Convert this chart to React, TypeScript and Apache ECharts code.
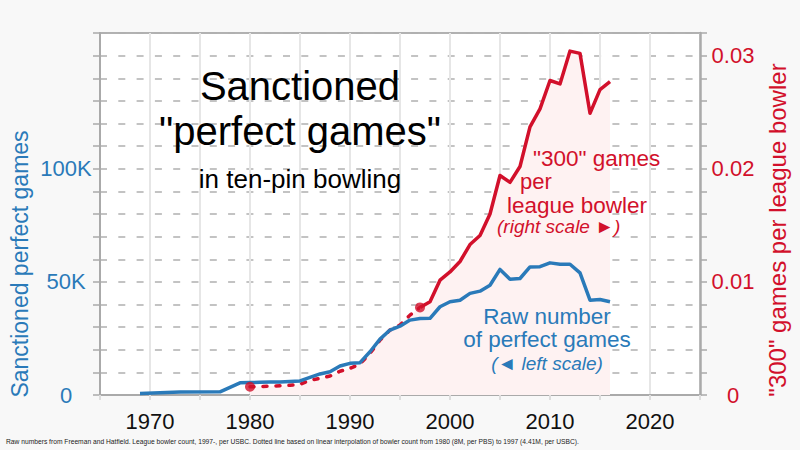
import React, { useEffect, useRef } from "react";
import * as echarts from "echarts";

// Raw number of sanctioned perfect games (left scale)
const rawYears = [1969, 1973, 1977, 1979, 1980, 1981, 1982, 1983, 1984, 1985, 1986, 1987, 1988, 1989, 1990, 1991, 1992, 1993, 1994, 1995, 1996, 1997, 1998, 1999, 2000, 2001, 2002, 2003, 2004, 2005, 2006, 2007, 2008, 2009, 2010, 2011, 2012, 2013, 2014, 2015, 2016];
const rawGames = [700, 1300, 1400, 5400, 5500, 5600, 5700, 5800, 6000, 6200, 7800, 9300, 10300, 12800, 14000, 14300, 19100, 24700, 28700, 30400, 33100, 33800, 33900, 39000, 41200, 41900, 44900, 45900, 48500, 55500, 51200, 51500, 56600, 56700, 58400, 57800, 57800, 54000, 41900, 42200, 41200];

// "300" games per league bowler, interpolated bowler count (right scale, dotted)
const interpYears = [1980, 1981, 1982, 1983, 1984, 1985, 1986, 1987, 1988, 1989, 1990, 1991, 1992, 1993, 1994, 1995, 1996, 1997];
const interpRate = [0.00073, 0.00075, 0.00078, 0.00082, 0.00086, 0.00094, 0.0013, 0.00147, 0.00168, 0.0021, 0.00235, 0.00274, 0.00368, 0.00485, 0.00574, 0.00618, 0.00706, 0.00774];

// "300" games per league bowler, USBC bowler count (right scale, solid)
const usbcYears = [1997, 1998, 1999, 2000, 2001, 2002, 2003, 2004, 2005, 2006, 2007, 2008, 2009, 2010, 2011, 2012, 2013, 2014, 2015, 2016];
const usbcRate = [0.00774, 0.00824, 0.01015, 0.01088, 0.0118, 0.0133, 0.0141, 0.016, 0.0194, 0.0188, 0.0202, 0.0237, 0.0253, 0.0278, 0.0275, 0.0304, 0.0302, 0.0249, 0.027, 0.0277];

const leftLabels = [0, 50000, 100000];
const rightLabels = [0, 0.01, 0.02, 0.03];

const BLUE = "#2a7ab9";
const RED = "#d2102b";
const PINK = "#fef2f2";
const FONT = "Liberation Sans";

const zip = (xs: number[], ys: number[]) => xs.map((x, i) => [x, ys[i]]);

export default function App() {
  const ref = useRef<HTMLDivElement>(null);
  useEffect(() => {
    if (!ref.current) return;
    const chart = echarts.init(ref.current, undefined, { renderer: "svg" });
    const near = (a: number, b: number) => Math.abs(a - b) < 1e-9;
    const label = (x: number, y: number, text: string, font: string, fill: string, align: string) => ({
      type: "text", x, y, z: 10,
      style: { text, font, fill, align, verticalAlign: "middle" },
    });
    const option: any = {
      animation: false,
      backgroundColor: "#f8f8f8",
      textStyle: { fontFamily: FONT },
      grid: {
        left: 100, right: 100, top: 33, bottom: 55,
        show: true, backgroundColor: "#ffffff", borderColor: "#999", borderWidth: 1.5,
      },
      xAxis: {
        type: "value", min: 1965, max: 2025, interval: 5,
        axisLine: { show: true, onZero: false, lineStyle: { color: "#aaa", width: 2 } },
        axisTick: { show: true, length: 5, lineStyle: { color: "#ddd", width: 2 } },
        splitLine: { show: true, lineStyle: { color: "#e6e6e6", width: 2 } },
        axisLabel: {
          margin: 15, fontSize: 22, color: "#111", fontFamily: FONT,
          formatter: (v: number) => (v % 10 === 0 ? String(v) : ""),
        },
      },
      yAxis: [
        {
          type: "value", position: "left", min: 0, max: 160000, interval: 10000,
          axisLine: { show: true, lineStyle: { color: "#aaa", width: 2 } },
          axisTick: { show: true, length: 7, lineStyle: { color: "#aaa", width: 1.5 } },
          splitLine: { show: true, lineStyle: { color: "#b0b0b0", width: 1.5, type: [7, 11.3] } },
          axisLabel: {
            align: "center", margin: 34, fontSize: 22, color: BLUE, fontFamily: FONT,
            formatter: (v: number) => {
              const hit = leftLabels.find((l) => near(l, v));
              if (hit === undefined) return "";
              return hit === 0 ? "0" : hit / 1000 + "K";
            },
          },
        },
        {
          type: "value", position: "right", min: 0, max: 0.032, interval: 0.002,
          axisLine: { show: true, lineStyle: { color: "#aaa", width: 2.5 } },
          axisTick: { show: true, length: 7, lineStyle: { color: "#aaa", width: 1.5 } },
          splitLine: { show: false },
          axisLabel: {
            align: "center", margin: 33, fontSize: 22, color: RED, fontFamily: FONT,
            formatter: (v: number) => {
              const hit = rightLabels.find((l) => Math.abs(l - v) < 1e-7);
              if (hit === undefined) return "";
              return hit === 0 ? "0" : String(hit);
            },
          },
        },
      ],
      series: [
        {
          type: "line", yAxisIndex: 1, data: zip(interpYears, interpRate),
          showSymbol: false, symbol: "none",
          lineStyle: { color: RED, width: 3.5, type: [4, 9], cap: "round" },
          areaStyle: { color: PINK, opacity: 1 },
          z: 2,
        },
        {
          type: "line", yAxisIndex: 1, data: zip(usbcYears, usbcRate),
          showSymbol: false, symbol: "none",
          lineStyle: { color: RED, width: 3.5, join: "round" },
          areaStyle: { color: PINK, opacity: 1 },
          z: 3,
        },
        {
          type: "scatter", yAxisIndex: 1,
          data: [
            [interpYears[0], interpRate[0]],
            [interpYears[interpYears.length - 1], interpRate[interpRate.length - 1]],
          ],
          symbol: "circle", symbolSize: 10, itemStyle: { color: RED }, z: 5,
        },
        {
          type: "line", yAxisIndex: 0, data: zip(rawYears, rawGames),
          showSymbol: false, symbol: "none",
          lineStyle: { color: BLUE, width: 3.5, join: "round" },
          z: 4,
        },
      ],
      graphic: [
        label(300, 86, "Sanctioned", `40px ${FONT}`, "#000", "center"),
        label(300, 131, '"perfect games"', `40px ${FONT}`, "#000", "center"),
        label(300, 179, "in ten-pin bowling", `26px ${FONT}`, "#000", "center"),

        label(533, 158.5, '"300" games', `22.5px ${FONT}`, RED, "left"),
        label(520, 181, "per", `22px ${FONT}`, RED, "left"),
        label(507, 205, "league bowler", `22.5px ${FONT}`, RED, "left"),
        label(497, 226.5, "(right scale \u25BA)", `italic 19px ${FONT}`, RED, "left"),

        label(547, 316.5, "Raw number", `22.5px ${FONT}`, BLUE, "center"),
        label(547, 339, "of perfect games", `22.5px ${FONT}`, BLUE, "center"),
        label(547, 363, "(\u25C4 left scale)", `italic 19px ${FONT}`, BLUE, "center"),

        { ...label(20, 264, "Sanctioned perfect games", `23px ${FONT}`, BLUE, "center"), rotation: Math.PI / 2 },
        { ...label(777, 230, '"300" games per league bowler', `24px ${FONT}`, RED, "center"), rotation: Math.PI / 2 },

        label(6, 441, "Raw numbers from Freeman and Hatfield. League bowler count, 1997-, per USBC. Dotted line based on linear interpolation of bowler count from 1980 (8M, per PBS) to 1997 (4.41M, per USBC).", `6.7px ${FONT}`, "#222", "left"),
      ],
    };
    chart.setOption(option);
    return () => chart.dispose();
  }, []);
  return <div ref={ref} style={{ position: "fixed", left: 0, top: 0, width: 800, height: 450 }} />;
}
